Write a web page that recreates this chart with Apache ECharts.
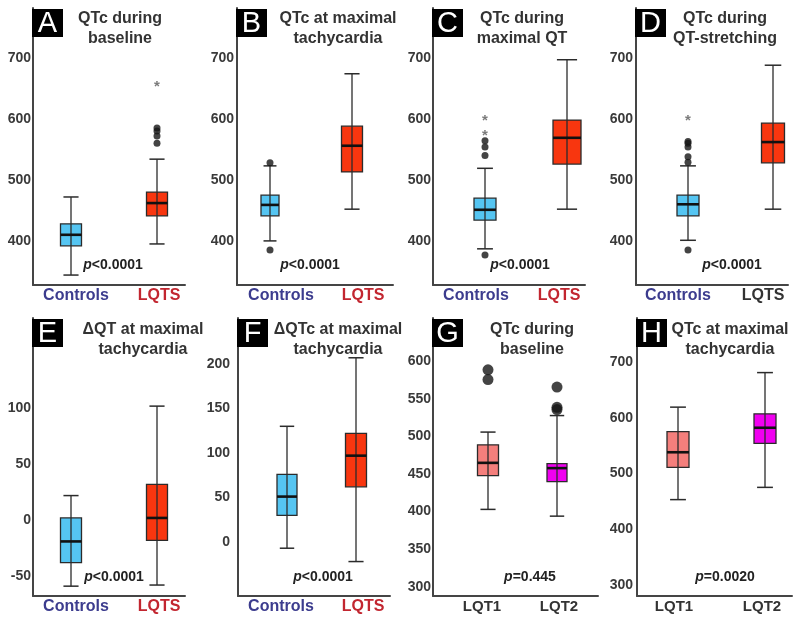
<!DOCTYPE html>
<html>
<head>
<meta charset="utf-8">
<title>QTc box plots</title>
<script src="https://cdn.jsdelivr.net/npm/echarts@6/dist/echarts.min.js"></script>
<style>
  html, body { margin: 0; padding: 0; background: #fff; }
  #chart { width: 800px; height: 623px; }
</style>
</head>
<body>
<div id="chart"></div>
<script>
// group names
const groupsQT = ['Controls', 'LQTS'];
const groupsGene = ['LQT1', 'LQT2'];

// y axis tick labels
const ticksQTc = [400, 500, 600, 700];
const ticksDeltaQT = [-50, 0, 50, 100];
const ticksDeltaQTc = [0, 50, 100, 150, 200];
const ticksBaseline = [300, 350, 400, 450, 500, 550, 600];
const ticksTachy = [300, 400, 500, 600, 700];

// [lower whisker, Q1, median, Q3, upper whisker], one row per group
const boxA = [[345, 393, 411, 429, 473], [396, 442, 463, 481, 535]];
const boxB = [[401, 442, 460, 476, 524], [453, 514, 557, 589, 675]];
const boxC = [[388, 435, 452, 471, 520], [453, 527, 570, 599, 698]];
const boxD = [[402, 442, 461, 476, 524], [453, 529, 563, 594, 689]];
const boxE = [[-59, -38, -19, 2, 22], [-58, -18, 2, 32, 102]];
const boxF = [[-7, 30, 51, 76, 130], [-22, 62, 97, 122, 207]];
const boxG = [[403, 448, 465, 489, 506], [394, 440, 458, 464, 528]];
const boxH = [[453, 511, 538, 575, 619], [475, 554, 582, 607, 681]];

// outliers (dots) and extremes (asterisks), one list per group
const dotsA = [[], [561, 573, 581, 586]];
const starsA = [[], [660]];
const dotsB = [[386, 529], []];
const dotsC = [[378, 541, 555, 565], []];
const starsC = [[580, 605], []];
const dotsD = [[386, 530, 539, 555, 561, 564], []];
const starsD = [[604], []];
const dotsG = [[576, 589], [536, 539, 566]];

const fills = { Controls: '#55c5f2', LQTS: '#f8360f', LQT1: '#f47f7c', LQT2: '#f000f0' };
const groupInk = { Controls: '#3c3c8e', LQTS: '#c22630', LQT1: '#333', LQT2: '#333' };
const FONT = '"Liberation Sans", Arial, sans-serif';

const TOP_ROW = { top: 8, bottom: 285, titleY: 9, pY: 265 };
const BOTTOM_ROW = { top: 318, bottom: 596, titleY: 320, pY: 577 };

const panels = [
  { letter: 'A', title: 'QTc during\nbaseline', row: TOP_ROW, groups: groupsQT, ticks: ticksQTc,
    box: boxA, dots: dotsA, stars: starsA, p: '<0.0001', yMin: 328.7, yMax: 782.8,
    x0: 33, x1: 185, centers: [71, 157], labels: [76, 159], boxW: [21, 21], gap: 2, titleX: 120, pX: 113 },
  { letter: 'B', title: 'QTc at maximal\ntachycardia', row: TOP_ROW, groups: groupsQT, ticks: ticksQTc,
    box: boxB, dots: dotsB, stars: [[], []], p: '<0.0001', yMin: 328.7, yMax: 782.8,
    x0: 237, x1: 393, centers: [270, 352], labels: [281, 363], boxW: [18, 21], gap: 3, titleX: 338, pX: 310 },
  { letter: 'C', title: 'QTc during\nmaximal QT', row: TOP_ROW, groups: groupsQT, ticks: ticksQTc,
    box: boxC, dots: dotsC, stars: starsC, p: '<0.0001', yMin: 328.7, yMax: 782.8,
    x0: 433, x1: 585, centers: [485, 567], labels: [476, 559], boxW: [22, 28], gap: 2, titleX: 522, pX: 520 },
  { letter: 'D', title: 'QTc during\nQT-stretching', row: TOP_ROW, groups: groupsQT, ticks: ticksQTc,
    box: boxD, dots: dotsD, stars: starsD, p: '<0.0001', yMin: 328.7, yMax: 782.8,
    x0: 636, x1: 788, centers: [688, 773], labels: [678, 763], boxW: [22, 23], gap: 3, titleX: 725, pX: 732,
    plainLabels: true },
  { letter: 'E', title: '\u0394QT at maximal\ntachycardia', row: BOTTOM_ROW, groups: groupsQT, ticks: ticksDeltaQT,
    box: boxE, dots: [[], []], stars: [[], []], p: '<0.0001', yMin: -67.8, yMax: 180.8,
    x0: 33, x1: 185, centers: [71, 157], labels: [76, 159], boxW: [21, 21], gap: 2, titleX: 143, pX: 114 },
  { letter: 'F', title: '\u0394QTc at maximal\ntachycardia', row: BOTTOM_ROW, groups: groupsQT, ticks: ticksDeltaQTc,
    box: boxF, dots: [[], []], stars: [[], []], p: '<0.0001', yMin: -60.7, yMax: 251.7,
    x0: 238, x1: 390, centers: [287, 356], labels: [281, 363], boxW: [20, 21], gap: 8, titleX: 338, pX: 323 },
  { letter: 'G', title: 'QTc during\nbaseline', row: BOTTOM_ROW, groups: groupsGene, ticks: ticksBaseline,
    box: boxG, dots: dotsG, stars: [[], []], p: '=0.445', yMin: 287.6, yMax: 658,
    x0: 433, x1: 598, centers: [488, 557], labels: [482, 559], boxW: [21, 20], gap: 2, titleX: 532, pX: 530,
    dotSize: 11 },
  { letter: 'H', title: 'QTc at maximal\ntachycardia', row: BOTTOM_ROW, groups: groupsGene, ticks: ticksTachy,
    box: boxH, dots: [[], []], stars: [[], []], p: '=0.0020', yMin: 280, yMax: 779,
    x0: 637, x1: 792, centers: [678, 765], labels: [674, 762], boxW: [22, 22], gap: 4, titleX: 730, pX: 725 }
];

// boxes sit at x = 1 and x = 2; the axis range places them where the figure has them
function xRange(p) {
  const s = p.centers[1] - p.centers[0];
  return {
    min: 1 - (p.centers[0] - p.x0) / s,
    max: 1 + (p.x1 - p.centers[0]) / s,
    labelAt: p.labels.map(l => 1 + (l - p.centers[0]) / s)
  };
}

function makeBoxRenderer(p) {
  return function (params, api) {
    const k = params.dataIndex;
    const x = api.value(0);
    const lo = api.coord([x, api.value(1)]);
    const q1 = api.coord([x, api.value(2)]);
    const md = api.coord([x, api.value(3)]);
    const q3 = api.coord([x, api.value(4)]);
    const hi = api.coord([x, api.value(5)]);
    const cx = lo[0];
    const hw = p.boxW[k] / 2;
    const cw = hw * 0.72;
    const ink = '#2b2b2b';
    return {
      type: 'group',
      children: [
        { type: 'rect', shape: { x: cx - hw, y: q3[1], width: hw * 2, height: q1[1] - q3[1] },
          style: { fill: fills[p.groups[k]], stroke: ink, lineWidth: 1.3 } },
        { type: 'line', shape: { x1: cx, y1: hi[1], x2: cx, y2: lo[1] },
          style: { stroke: ink, lineWidth: 1.3 } },
        { type: 'line', shape: { x1: cx - cw, y1: hi[1], x2: cx + cw, y2: hi[1] },
          style: { stroke: ink, lineWidth: 1.5 } },
        { type: 'line', shape: { x1: cx - cw, y1: lo[1], x2: cx + cw, y2: lo[1] },
          style: { stroke: ink, lineWidth: 1.5 } },
        { type: 'line', shape: { x1: cx - hw, y1: md[1], x2: cx + hw, y2: md[1] },
          style: { stroke: '#111', lineWidth: 2.6 } }
      ]
    };
  };
}

const grids = [], xAxes = [], yAxes = [], series = [], graphics = [];

panels.forEach(function (p, i) {
  const xr = xRange(p);
  grids.push({ left: p.x0, top: p.row.top, width: p.x1 - p.x0, height: p.row.bottom - p.row.top,
    outerBoundsMode: 'none' });

  xAxes.push({
    type: 'value', gridIndex: i, min: xr.min, max: xr.max,
    axisLine: { show: true, onZero: false, lineStyle: { color: '#454545', width: 2 } },
    axisTick: { show: false },
    splitLine: { show: false },
    axisLabel: {
      customValues: xr.labelAt,
      margin: 3,
      fontFamily: FONT,
      fontWeight: 'bold',
      fontSize: p.groups === groupsGene ? 15 : 16,
      formatter: v => p.groups[v < 1.5 ? 0 : 1],
      color: function (v) {
        const g = p.groups[parseFloat(v) < 1.5 ? 0 : 1];
        return (p.plainLabels && g === 'LQTS') ? '#333' : groupInk[g];
      }
    }
  });

  yAxes.push({
    type: 'value', gridIndex: i, min: p.yMin, max: p.yMax,
    axisLine: { show: true, onZero: false, lineStyle: { color: '#454545', width: 2 } },
    axisTick: { show: false },
    splitLine: { show: false },
    axisLabel: { customValues: p.ticks, margin: p.gap, fontFamily: FONT, fontWeight: 'bold',
      fontSize: 14, color: '#3a3a3a' }
  });

  series.push({
    type: 'custom', xAxisIndex: i, yAxisIndex: i, silent: true, z: 2,
    data: p.box.map((b, k) => [k + 1].concat(b)),
    encode: { x: 0, y: [1, 2, 3, 4, 5] },
    renderItem: makeBoxRenderer(p)
  });

  const dotData = [];
  p.dots.forEach((list, k) => list.forEach(v => dotData.push([k + 1, v])));
  if (dotData.length) {
    series.push({
      type: 'scatter', xAxisIndex: i, yAxisIndex: i, silent: true, z: 3,
      symbol: 'circle', symbolSize: p.dotSize || 7,
      itemStyle: { color: '#151515' },
      data: dotData
    });
  }

  const starData = [];
  p.stars.forEach((list, k) => list.forEach(v => starData.push([k + 1, v])));
  if (starData.length) {
    series.push({
      type: 'scatter', xAxisIndex: i, yAxisIndex: i, silent: true, z: 4,
      symbol: 'circle', symbolSize: 2, itemStyle: { color: 'rgba(0,0,0,0)' },
      label: { show: true, position: 'inside', formatter: '*', offset: [0, 4],
        fontFamily: FONT, fontSize: 15, fontWeight: 'bold', color: '#5a5a5a' },
      data: starData
    });
  }

  // panel letter, title and p value
  graphics.push({
    type: 'rect', z: 10,
    shape: { x: p.x0 - 1, y: p.row.top + 1, width: 31, height: 28 },
    style: { fill: '#000' }
  });
  graphics.push({
    type: 'text', z: 11, x: p.x0 + 14.5, y: p.row.top + 16,
    style: { text: p.letter, fill: '#fff', font: '29px ' + FONT,
      align: 'center', verticalAlign: 'middle', textAlign: 'center', textVerticalAlign: 'middle' }
  });
  graphics.push({
    type: 'text', z: 11, x: p.titleX, y: p.row.titleY,
    style: { text: p.title, fill: '#333', font: 'bold 16px ' + FONT, lineHeight: 20,
      align: 'center', verticalAlign: 'top', textAlign: 'center', textVerticalAlign: 'top' }
  });
  graphics.push({
    type: 'text', z: 11, x: p.pX, y: p.row.pY,
    style: {
      text: '{i|p}{n|' + p.p + '}',
      rich: {
        i: { fontFamily: FONT, fontSize: 14, fontWeight: 'bold', fontStyle: 'italic', fill: '#222' },
        n: { fontFamily: FONT, fontSize: 14, fontWeight: 'bold', fill: '#222' }
      },
      align: 'center', verticalAlign: 'middle', textAlign: 'center', textVerticalAlign: 'middle'
    }
  });
});

const chart = echarts.init(document.getElementById('chart'), null, { renderer: 'canvas' });
chart.setOption({
  animation: false,
  backgroundColor: '#fff',
  grid: grids,
  xAxis: xAxes,
  yAxis: yAxes,
  series: series,
  graphic: { elements: graphics }
});
</script>
</body>
</html>
